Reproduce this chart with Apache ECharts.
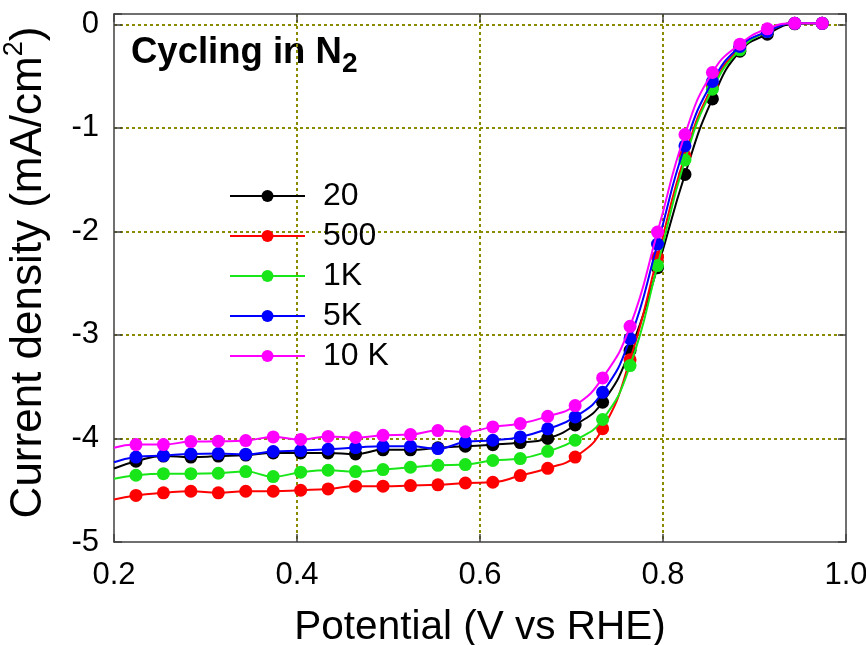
<!DOCTYPE html>
<html>
<head>
<meta charset="utf-8">
<script src="https://cdn.jsdelivr.net/npm/echarts@6/dist/echarts.min.js"></script>
<style>
  html, body { margin: 0; padding: 0; background: #ffffff; }
  #chart { width: 866px; height: 645px; }
</style>
</head>
<body>
<div id="chart"></div>
<script>
// Potentials (V vs RHE) at which markers are drawn
const potentials = [0.224, 0.254, 0.284, 0.314, 0.344, 0.374, 0.404, 0.434, 0.464, 0.494,
                    0.524, 0.554, 0.584, 0.614, 0.644, 0.674, 0.704, 0.734, 0.764, 0.794,
                    0.824, 0.854, 0.884, 0.914, 0.944, 0.974];

// Current density (mA/cm2) after each number of cycles
const cycles20 = [-4.22, -4.17, -4.18, -4.17, -4.16, -4.14, -4.14, -4.14, -4.15, -4.11,
                  -4.11, -4.09, -4.075, -4.06, -4.04, -4.00, -3.87, -3.65, -3.15, -2.35,
                  -1.45, -0.72, -0.26, -0.095, 0.005, 0.01];
const cycles500 = [-4.55, -4.525, -4.51, -4.525, -4.51, -4.51, -4.50, -4.487, -4.461, -4.461,
                   -4.455, -4.448, -4.43, -4.423, -4.358, -4.288, -4.18, -3.905, -3.24, -2.25,
                   -1.27, -0.60, -0.23, -0.07, 0.01, 0.01];
const cycles1K = [-4.355, -4.34, -4.34, -4.336, -4.32, -4.368, -4.326, -4.307, -4.32, -4.30,
                  -4.278, -4.259, -4.252, -4.213, -4.194, -4.124, -4.017, -3.817, -3.296, -2.33,
                  -1.31, -0.626, -0.246, -0.07, 0.01, 0.01];
const cycles5K = [-4.18, -4.165, -4.15, -4.146, -4.152, -4.126, -4.117, -4.104, -4.088, -4.075,
                  -4.075, -4.098, -4.033, -4.017, -3.985, -3.907, -3.792, -3.554, -3.036, -2.122,
                  -1.173, -0.552, -0.214, -0.07, 0.01, 0.01];
const cycles10K = [-4.059, -4.059, -4.03, -4.027, -4.02, -3.985, -4.01, -3.98, -3.99, -3.97,
                   -3.962, -3.924, -3.936, -3.888, -3.856, -3.786, -3.682, -3.415, -2.917, -2.006,
                   -1.064, -0.465, -0.191, -0.043, 0.01, 0.01];

// Current at the start of the sweep window (0.2 V), where the traces begin without a marker
const startPotential = 0.2;
const startValues = [-4.29, -4.59, -4.39, -4.23, -4.09];

const seriesNames = ['20', '500', '1K', '5K', '10 K'];
const seriesValues = [cycles20, cycles500, cycles1K, cycles5K, cycles10K];
const seriesColors = ['#000000', '#ff0000', '#19e619', '#0000ff', '#ff00ff'];

const xTickLabels = ['0.2', '0.4', '0.6', '0.8', '1.0'];
const yTickLabels = ['-5', '-4', '-3', '-2', '-1', '0'];

const FONT = 'Liberation Sans, Arial, Helvetica, sans-serif';
const AXIS_COLOR = '#404040';
const GRID_COLOR = '#8b8b00';

function buildSeries(i) {
  const data = [{ value: [startPotential, startValues[i]], symbol: 'none' }];
  potentials.forEach((p, k) => data.push([p, seriesValues[i][k]]));
  return {
    name: seriesNames[i],
    type: 'line',
    data: data,
    smooth: 0.5,
    symbol: 'circle',
    symbolSize: 13,
    showSymbol: true,
    lineStyle: { color: seriesColors[i], width: 2 },
    itemStyle: { color: seriesColors[i] },
    emphasis: { disabled: true },
    z: 2 + i
  };
}

function xLabel(v) {
  const idx = Math.round((v - 0.2) / 0.2);
  return Math.abs(v - (0.2 + idx * 0.2)) < 1e-6 && xTickLabels[idx] ? xTickLabels[idx] : '';
}
function yLabel(v) {
  const r = Math.round(v);
  if (Math.abs(v - r) > 1e-6) return '';
  const idx = r + 5;
  return yTickLabels[idx] !== undefined ? yTickLabels[idx] : '';
}

const chart = echarts.init(document.getElementById('chart'), null, { renderer: 'canvas' });

chart.setOption({
  animation: false,
  backgroundColor: '#ffffff',
  textStyle: { fontFamily: FONT },
  grid: {
    left: 114, right: 20, top: 14, bottom: 103,
    containLabel: false,
    outerBoundsMode: 'none'
  },
  legend: {
    data: seriesNames,
    orient: 'vertical',
    left: 229,
    top: 180,
    padding: 0,
    itemWidth: 75,
    itemHeight: 15,
    itemGap: 8,
    selectedMode: false,
    textStyle: { fontFamily: FONT, fontSize: 32, lineHeight: 30, color: '#000000', padding: [0, 0, 0, 13] }
  },
  graphic: [
    {
      type: 'text', x: 131, y: 53, silent: true,
      style: { text: 'Cycling in N', fontFamily: FONT, fontWeight: 'bold', fontSize: 36.5,
               fill: '#000000', align: 'left', verticalAlign: 'middle' }
    },
    {
      type: 'text', x: 342, y: 64, silent: true,
      style: { text: '2', fontFamily: FONT, fontWeight: 'bold', fontSize: 28,
               fill: '#000000', align: 'left', verticalAlign: 'middle' }
    }
  ],
  xAxis: [
    {
      type: 'value', min: 0.2, max: 1.0, interval: 0.2, position: 'bottom',
      axisLine: { show: true, onZero: false, lineStyle: { color: AXIS_COLOR, width: 1.5 } },
      axisTick: { show: true, inside: true, length: 8, lineStyle: { color: AXIS_COLOR, width: 1.5 } },
      axisLabel: { fontFamily: FONT, fontSize: 31, color: '#000000', margin: 18, formatter: xLabel },
      splitLine: { show: true, showMinLine: false, showMaxLine: false,
                   lineStyle: { color: GRID_COLOR, type: [3, 3], width: 2 } },
      name: 'Potential (V vs RHE)', nameLocation: 'middle', nameGap: 65,
      nameTextStyle: { fontFamily: FONT, fontSize: 40.5, color: '#000000' }
    },
    {
      type: 'value', min: 0.2, max: 1.0, interval: 0.2, position: 'top', z: 5,
      axisLine: { show: true, onZero: false, lineStyle: { color: AXIS_COLOR, width: 1.5 } },
      axisTick: { show: true, inside: true, length: 8, lineStyle: { color: AXIS_COLOR, width: 1.5 } },
      axisLabel: { show: false },
      splitLine: { show: false }
    }
  ],
  yAxis: [
    {
      type: 'value', min: -5, max: 0.1, interval: 1, position: 'left',
      axisLine: { show: true, onZero: false, lineStyle: { color: AXIS_COLOR, width: 1.5 } },
      axisTick: { show: true, inside: true, length: 8, lineStyle: { color: AXIS_COLOR, width: 1.5 } },
      axisLabel: { fontFamily: FONT, fontSize: 31, color: '#000000', margin: 15, formatter: yLabel },
      splitLine: { show: true, showMinLine: false, showMaxLine: false,
                   lineStyle: { color: GRID_COLOR, type: [3, 3], width: 2 } },
      name: 'Current density (mA/cm{sup|2})', nameLocation: 'middle', nameGap: 57,
      nameTextStyle: {
        fontFamily: FONT, fontSize: 44, color: '#000000', lineHeight: 56,
        padding: [0, 0, 0, 11],
        rich: { sup: { fontFamily: FONT, fontSize: 27, color: '#000000', verticalAlign: 'top' } }
      }
    },
    {
      type: 'value', min: -5, max: 0.1, interval: 1, position: 'right', z: 5,
      axisLine: { show: true, onZero: false, lineStyle: { color: AXIS_COLOR, width: 1.5 } },
      axisTick: { show: true, inside: true, length: 8, lineStyle: { color: AXIS_COLOR, width: 1.5 } },
      axisLabel: { show: false },
      splitLine: { show: false }
    }
  ],
  series: seriesNames.map((_, i) => buildSeries(i))
});
</script>
</body>
</html>
